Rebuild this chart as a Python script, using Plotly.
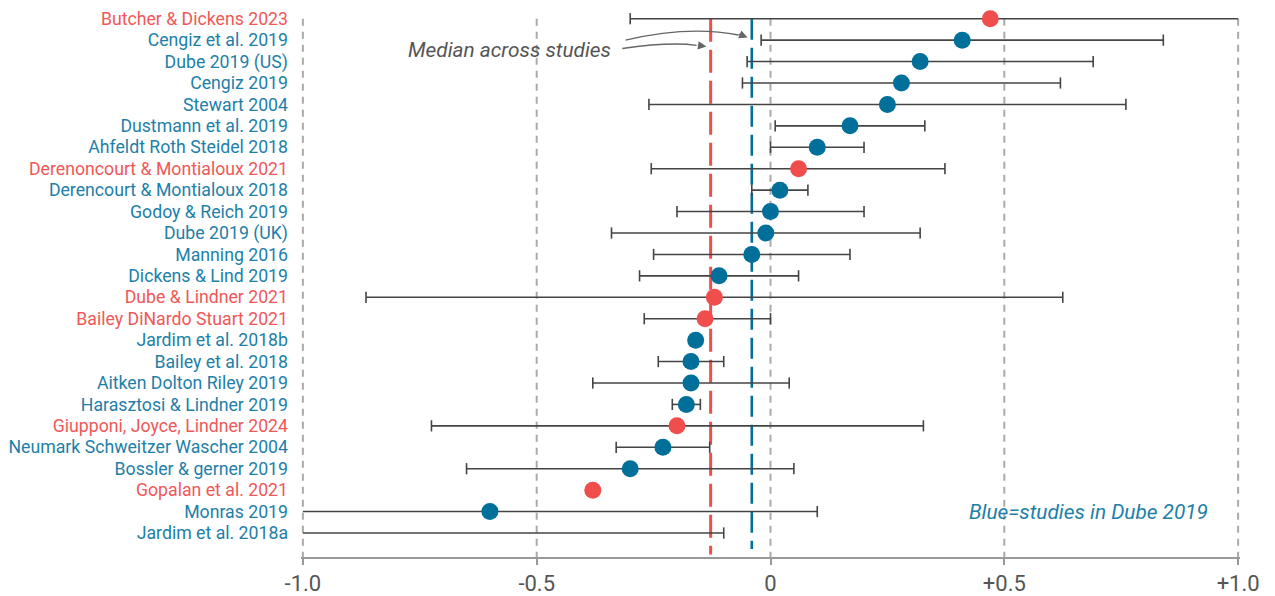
import plotly.graph_objects as go

# ---------------- data ----------------
studies = [
    "Butcher & Dickens 2023", "Cengiz et al. 2019", "Dube 2019 (US)", "Cengiz 2019",
    "Stewart 2004", "Dustmann et al. 2019", "Ahfeldt Roth Steidel 2018",
    "Derenoncourt & Montialoux 2021", "Derencourt & Montialoux 2018", "Godoy & Reich 2019",
    "Dube 2019 (UK)", "Manning 2016", "Dickens & Lind 2019", "Dube & Lindner 2021",
    "Bailey DiNardo Stuart 2021", "Jardim et al. 2018b", "Bailey et al. 2018",
    "Aitken Dolton Riley 2019", "Harasztosi & Lindner 2019", "Giupponi, Joyce, Lindner 2024",
    "Neumark Schweitzer Wascher 2004", "Bossler & gerner 2019", "Gopalan et al. 2021",
    "Monras 2019", "Jardim et al. 2018a",
]
in_dube = [False, True, True, True, True, True, True, False, True, True, True, True, True,
           False, False, True, True, True, True, False, True, True, False, True, True]
estimate = [0.47, 0.41, 0.32, 0.28, 0.25, 0.17, 0.10, 0.06, 0.02, 0.00, -0.01, -0.04, -0.11,
            -0.12, -0.14, -0.16, -0.17, -0.17, -0.18, -0.20, -0.23, -0.30, -0.38, -0.60, None]
ci_low = [-0.30, -0.02, -0.05, -0.06, -0.26, 0.01, 0.00, -0.255, -0.04, -0.20, -0.34, -0.25,
          -0.28, -0.865, -0.27, None, -0.24, -0.38, -0.21, -0.725, -0.33, -0.65, None, -1.0, -1.0]
ci_high = [1.0, 0.84, 0.69, 0.62, 0.76, 0.33, 0.20, 0.373, 0.08, 0.20, 0.32, 0.17, 0.06, 0.625,
           0.00, None, -0.10, 0.04, -0.15, 0.327, -0.13, 0.05, None, 0.10, -0.10]
median_all = -0.128
median_dube = -0.04
x_ticks = [-1.0, -0.5, 0.0, 0.5, 1.0]
x_tick_labels = ["-1.0", "-0.5", "0", "+0.5", "+1.0"]

# ---------------- styles ----------------
BLUE_MK = "#00709b"
RED_MK = "#f04d4d"
BLUE_TX = "#1d80a8"
RED_TX = "#f05858"
FONT = "Roboto"

n = len(studies)
rows = list(range(n))

fig = go.Figure()

# CI lines
cx, cy = [], []
capx, capy = [], []
for i in rows:
    lo, hi = ci_low[i], ci_high[i]
    if lo is None or hi is None:
        continue
    cx += [lo, hi, None]
    cy += [i, i, None]
    for v in (lo, hi):
        if -1.0 < v < 1.0:
            capx.append(v)
            capy.append(i)
fig.add_trace(go.Scatter(x=cx, y=cy, mode="lines",
                         line=dict(color="#444444", width=1.6),
                         hoverinfo="skip", showlegend=False))
fig.add_trace(go.Scatter(x=capx, y=capy, mode="markers",
                         marker=dict(symbol="line-ns", size=8,
                                     line=dict(color="#444444", width=1.6)),
                         hoverinfo="skip", showlegend=False))

# points
px_, py_, pc_ = [], [], []
for i in rows:
    if estimate[i] is None:
        continue
    px_.append(estimate[i])
    py_.append(i)
    pc_.append(BLUE_MK if in_dube[i] else RED_MK)
fig.add_trace(go.Scatter(x=px_, y=py_, mode="markers",
                         marker=dict(size=17, color=pc_, line=dict(width=0)),
                         cliponaxis=False, showlegend=False))

Y_BOTTOM = 25.12

# vertical dashed gridlines
for v in x_ticks:
    fig.add_shape(type="line", xref="x", yref="y", x0=v, x1=v, y0=0, y1=Y_BOTTOM,
                  line=dict(color="#aaaaaa", width=2, dash="7px,6px"), layer="below")

# median lines
fig.add_shape(type="line", xref="x", yref="y", x0=median_all, x1=median_all, y0=0, y1=25.0,
              line=dict(color=RED_MK, width=3, dash="23px,8px"), layer="below")
fig.add_shape(type="line", xref="x", yref="y", x0=median_dube, x1=median_dube, y0=0, y1=24.75,
              line=dict(color=BLUE_MK, width=2.6, dash="21px,8px"), layer="below")

# curved arrows for the median annotation
ARW = "#666666"
fig.add_shape(type="path", xref="x", yref="y",
              path="M -0.310,1.00 Q -0.175,0.30 -0.068,0.76",
              line=dict(color=ARW, width=1.3))
fig.add_shape(type="path", xref="x", yref="y",
              path="M -0.317,1.39 Q -0.215,1.07 -0.158,1.24",
              line=dict(color=ARW, width=1.3))
fig.add_annotation(x=-0.049, y=0.88, ax=-10, ay=-4, axref="pixel", ayref="pixel",
                   text="", showarrow=True, arrowhead=2, arrowsize=1.3, arrowwidth=1.3,
                   arrowcolor=ARW)
fig.add_annotation(x=-0.137, y=1.30, ax=-10, ay=-1.5, axref="pixel", ayref="pixel",
                   text="", showarrow=True, arrowhead=2, arrowsize=1.3, arrowwidth=1.3,
                   arrowcolor=ARW)

fig.add_annotation(x=-0.336, y=1.45, xref="x", yref="y", xanchor="right", yanchor="middle",
                   text="<i>Median across studies</i>", showarrow=False,
                   font=dict(family=FONT, size=20.8, color="#555555"))
fig.add_annotation(x=0.94, y=23, xref="x", yref="y", xanchor="right", yanchor="middle",
                   text="<i>Blue=studies in Dube 2019</i>", showarrow=False,
                   font=dict(family=FONT, size=20.8, color=BLUE_TX))

# y tick labels coloured per study
ticktext = []
for s, b in zip(studies, in_dube):
    col = BLUE_TX if b else RED_TX
    ticktext.append(f"<span style='color:{col}'>{s.replace('&', '&amp;')}</span>")

fig.update_layout(
    width=1267, height=588,
    margin=dict(l=293, r=35, t=0, b=36),
    paper_bgcolor="white", plot_bgcolor="white",
    font=dict(family=FONT),
    showlegend=False,
    xaxis=dict(range=[-1.004, 1.004], tickvals=x_ticks, ticktext=x_tick_labels,
               showgrid=False, zeroline=False, showline=True, linecolor="#999999",
               linewidth=1.5, ticks="outside", ticklen=6, tickcolor="#999999",
               tickwidth=1.5, tickfont=dict(family=FONT, size=22, color="#555555")),
    yaxis=dict(range=[Y_BOTTOM, -0.5], tickvals=rows, ticktext=ticktext,
               showgrid=False, zeroline=False, showline=False, ticks="",
               ticklabelstandoff=12, tickfont=dict(family=FONT, size=17.7)),
)

fig.write_html("out.html")
